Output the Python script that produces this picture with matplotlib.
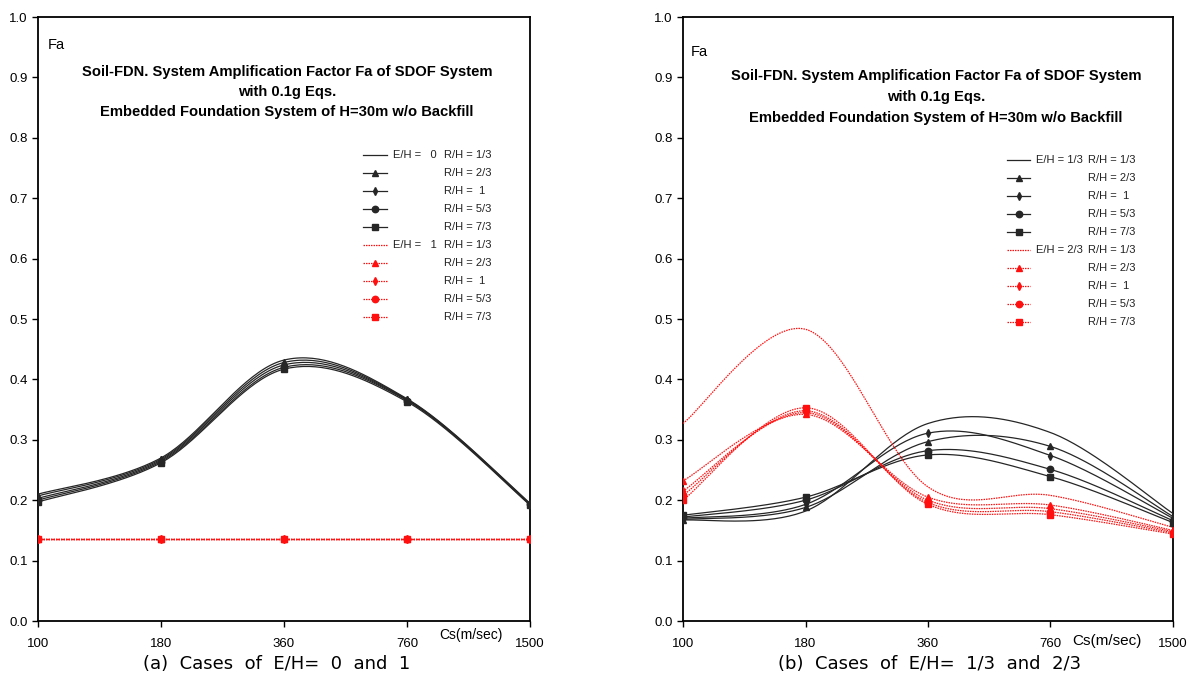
import numpy as np
import matplotlib
matplotlib.use("Agg")
import matplotlib.pyplot as plt

# ---------------- data ----------------
cs_labels = ["100", "180", "360", "760", "1500"]
rh_labels = ["R/H = 1/3", "R/H = 2/3", "R/H =  1", "R/H = 5/3", "R/H = 7/3"]

# (a) E/H = 0 (black) and E/H = 1 (red)
a_e0_r13 = [0.210, 0.270, 0.432, 0.368, 0.195]
a_e0_r23 = [0.207, 0.268, 0.428, 0.367, 0.194]
a_e0_r1 = [0.203, 0.266, 0.424, 0.366, 0.193]
a_e0_r53 = [0.200, 0.264, 0.420, 0.365, 0.193]
a_e0_r73 = [0.197, 0.262, 0.417, 0.363, 0.192]
a_e1_r13 = [0.136, 0.136, 0.136, 0.136, 0.136]
a_e1_r23 = [0.136, 0.136, 0.136, 0.136, 0.136]
a_e1_r1 = [0.136, 0.136, 0.136, 0.136, 0.136]
a_e1_r53 = [0.136, 0.136, 0.136, 0.136, 0.136]
a_e1_r73 = [0.136, 0.136, 0.136, 0.136, 0.136]

# (b) E/H = 1/3 (black) and E/H = 2/3 (red)
b_e13_r13 = [0.167, 0.182, 0.327, 0.312, 0.178]
b_e13_r23 = [0.168, 0.188, 0.297, 0.289, 0.173]
b_e13_r1 = [0.170, 0.193, 0.311, 0.274, 0.170]
b_e13_r53 = [0.172, 0.200, 0.282, 0.251, 0.166]
b_e13_r73 = [0.175, 0.205, 0.275, 0.239, 0.163]
b_e23_r13 = [0.327, 0.483, 0.222, 0.208, 0.155]
b_e23_r23 = [0.232, 0.342, 0.205, 0.192, 0.150]
b_e23_r1 = [0.215, 0.345, 0.200, 0.186, 0.148]
b_e23_r53 = [0.208, 0.348, 0.196, 0.181, 0.146]
b_e23_r73 = [0.200, 0.353, 0.193, 0.176, 0.144]

title_lines = ("Soil-FDN. System Amplification Factor Fa of SDOF System\n"
               "with 0.1g Eqs.\n"
               "Embedded Foundation System of H=30m w/o Backfill")

plt.rcParams['font.family'] = ['Liberation Sans', 'DejaVu Sans']

markers = [None, '^', 'd', 'o', 's']
BLACK = '#262626'
RED = '#ff1010'


def smooth(y, n=40):
    """Excel-style smoothed line (Catmull-Rom Bezier) through the points."""
    x = np.arange(len(y), dtype=float)
    y = np.asarray(y, dtype=float)
    P = np.column_stack([x, y])
    Pp = np.vstack([P[0], P, P[-1]])
    t = np.linspace(0, 1, n)[:, None]
    out = []
    for i in range(len(P) - 1):
        p0, p1, p2, p3 = Pp[i], Pp[i + 1], Pp[i + 2], Pp[i + 3]
        c1 = p1 + (p2 - p0) / 6.0
        c2 = p2 - (p3 - p1) / 6.0
        seg = ((1 - t) ** 3) * p1 + 3 * ((1 - t) ** 2) * t * c1 + 3 * (1 - t) * t ** 2 * c2 + t ** 3 * p2
        out.append(seg if i == 0 else seg[1:])
    s = np.vstack(out)
    return s[:, 0], s[:, 1]


def draw_series(ax, y, color, ls, marker):
    xs, ys = smooth(y)
    ax.plot(xs, ys, color=color, ls=ls, lw=0.9, zorder=3)
    if marker is not None:
        ax.plot(np.arange(len(y)), y, ls='none', marker=marker, color=color,
                markersize=4.6 if marker != 'd' else 4.2, zorder=4)


def legend(ax, top, eh_black, eh_red, black_ls, red_ls):
    step = 0.0298
    for k in range(10):
        yy = top - k * step
        color = BLACK if k < 5 else RED
        ls = black_ls if k < 5 else red_ls
        m = markers[k % 5]
        ax.plot([0.661, 0.709], [yy, yy], transform=ax.transAxes, color=color,
                ls=ls, lw=0.9, clip_on=False, zorder=5)
        if m is not None:
            ax.plot([0.685], [yy], transform=ax.transAxes, ls='none', marker=m,
                    color=color, markersize=4.6 if m != 'd' else 4.2, clip_on=False, zorder=6)
        ax.text(0.826, yy, rh_labels[k % 5], transform=ax.transAxes, fontsize=8,
                va='center', ha='left', color='#222222')
    ax.text(0.721, top, eh_black, transform=ax.transAxes, fontsize=8,
            va='center', ha='left', color='#222222')
    ax.text(0.721, top - 5 * step, eh_red, transform=ax.transAxes, fontsize=8,
            va='center', ha='left', color='#222222')


def setup(ax):
    ax.set_xlim(0, 4)
    ax.set_ylim(0, 1.0)
    ax.set_xticks(range(len(cs_labels)))
    ax.set_xticklabels(cs_labels)
    ax.set_yticks(np.arange(0, 1.01, 0.1))
    ax.set_yticklabels([f"{v:.1f}" for v in np.arange(0, 1.01, 0.1)])
    ax.tick_params(axis='both', direction='out', length=4, width=1.0,
                   labelsize=9.5, colors='black')
    ax.tick_params(axis='x', pad=8)
    for sp in ax.spines.values():
        sp.set_linewidth(1.3)
        sp.set_color('black')


fig = plt.figure(figsize=(11.93, 6.88), dpi=100)
W, H = 1193.0, 688.0
ax1 = fig.add_axes([38 / W, (H - 621) / H, 492 / W, 604 / H])
ax2 = fig.add_axes([683 / W, (H - 621) / H, 490 / W, 604 / H])

a_black = [a_e0_r13, a_e0_r23, a_e0_r1, a_e0_r53, a_e0_r73]
a_red = [a_e1_r13, a_e1_r23, a_e1_r1, a_e1_r53, a_e1_r73]
b_black = [b_e13_r13, b_e13_r23, b_e13_r1, b_e13_r53, b_e13_r73]
b_red = [b_e23_r13, b_e23_r23, b_e23_r1, b_e23_r53, b_e23_r73]

red_ls = (0, (1.2, 0.8))
for ax, blk, red in [(ax1, a_black, a_red), (ax2, b_black, b_red)]:
    setup(ax)
    for y, m in zip(blk, markers):
        draw_series(ax, y, BLACK, '-', m)
    for y, m in zip(red, markers):
        draw_series(ax, y, RED, red_ls, m)

# titles
fig.text(287 / W, 1 - 92 / H, title_lines, ha='center', va='center',
         fontsize=10.6, fontweight='bold', linespacing=1.55)
fig.text(936 / W, 1 - 97 / H, title_lines, ha='center', va='center',
         fontsize=10.6, fontweight='bold', linespacing=1.6)

# Fa labels
ax1.text(10 / 492, (621 - 45) / 604, "Fa", transform=ax1.transAxes, fontsize=10.5, va='center')
ax2.text(8 / 490, (621 - 52) / 604, "Fa", transform=ax2.transAxes, fontsize=10.5, va='center')

# Cs labels
fig.text(471 / W, 1 - 635 / H, "Cs(m/sec)", fontsize=10, ha='center', va='center')
fig.text(1107 / W, 1 - 641 / H, "Cs(m/sec)", fontsize=11, ha='center', va='center')

# legends
legend(ax1, (621 - 155) / 604, "E/H =   0", "E/H =   1", '-', red_ls)
legend(ax2, (621 - 160) / 604, "E/H = 1/3", "E/H = 2/3", '-', red_ls)

# captions
fig.text(277 / W, 1 - 664 / H, "(a)  Cases  of  E/H=  0  and  1", fontsize=13,
         ha='center', va='center', family=['DejaVu Sans'])
fig.text(930 / W, 1 - 664 / H, "(b)  Cases  of  E/H=  1/3  and  2/3", fontsize=13,
         ha='center', va='center', family=['DejaVu Sans'])

fig.savefig("out.png", dpi=100)
